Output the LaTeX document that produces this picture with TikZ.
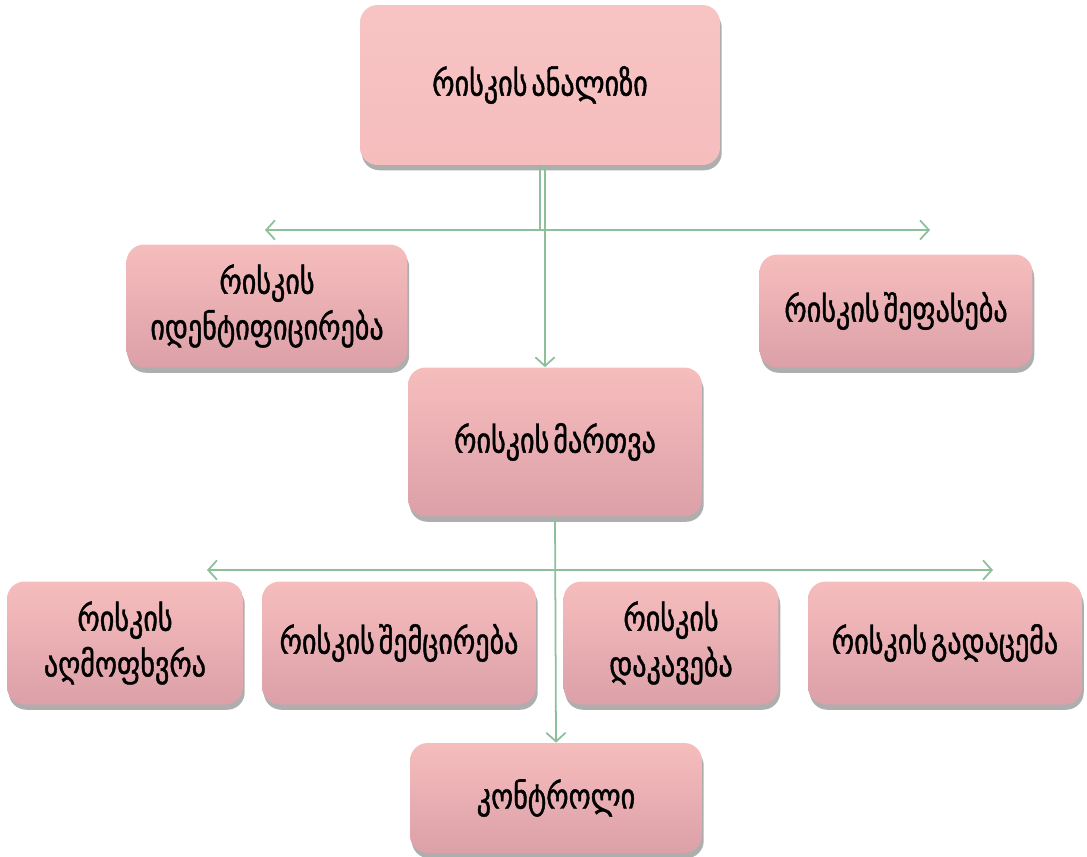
\documentclass[tikz,border=0pt]{standalone}
\usepackage{fontspec}
\newfontfamily\geofont[FakeStretch=0.8,FakeBold=1.2,WordSpace=0.45]{DejaVu Sans}
\usetikzlibrary{arrows.meta,shadows}
\definecolor{boxtop}{HTML}{F6BDBD}
\definecolor{boxbot}{HTML}{DCA0A8}
\definecolor{linegreen}{HTML}{8CBF9A}
\tikzset{
rbox/.style={rounded corners=10pt,top color=boxtop,bottom color=boxbot,align=center,
 font=\geofont\fontsize{20}{26}\selectfont,inner sep=2pt,
 drop shadow={shadow xshift=1pt,shadow yshift=-3pt,opacity=0.45,fill=black!70}},
gline/.style={draw=linegreen,line width=1pt},
garrow/.style={gline,-{Straight Barb[length=5pt,width=11pt]}},
}
\begin{document}
\begin{tikzpicture}[x=0.02cm,y=-0.02cm]
\useasboundingbox (0,0) rectangle (1087,856);
\node[rbox,top color=boxtop!90!white,bottom color=boxtop,minimum width=7.2cm,minimum height=3.2cm](anal) at (540,85){რისკის ანალიზი};
\node[rbox,minimum width=5.62cm,minimum height=2.46cm](ident) at (267,306){რისკის\\იდენტიფიცირება};
\node[rbox,minimum width=5.46cm,minimum height=2.26cm](shefas) at (896,311){რისკის შეფასება};
\node[rbox,minimum width=5.88cm,minimum height=2.98cm](martva) at (555,442){რისკის მართვა};
%bottom row
\node[rbox,minimum width=4.72cm,minimum height=2.46cm](aghmo) at (125,643){რისკის\\აღმოფხვრა};
\node[rbox,minimum width=5.48cm,minimum height=2.46cm](shemc) at (399,643){რისკის შემცირება};
\node[rbox,minimum width=4.3cm,minimum height=2.46cm](dakav) at (671,643){რისკის\\დაკავება};
\node[rbox,minimum width=5.48cm,minimum height=2.46cm](gadac) at (945,643){რისკის გადაცემა};
\node[rbox,minimum width=5.84cm,minimum height=2.2cm](kontr) at (556,798){კონტროლი};
%connectors
\coordinate(l1) at (265,230);\coordinate(r1) at (930,230);
\coordinate(l2) at (207,570);\coordinate(r2) at (993,570);
\draw[gline](anal.south)--(anal.south|-l1);
\draw[gline,{Straight Barb[length=5pt,width=11pt]}-{Straight Barb[length=5pt,width=11pt]}](l1)--(r1);
\draw[garrow]([xshift=0.1cm]anal.south)--([xshift=0.1cm]anal.south|-martva.north);
\draw[gline,{Straight Barb[length=5pt,width=11pt]}-{Straight Barb[length=5pt,width=11pt]}](l2)--(r2);
\draw[garrow](martva.south)--(kontr.north);
\end{tikzpicture}
\end{document}
